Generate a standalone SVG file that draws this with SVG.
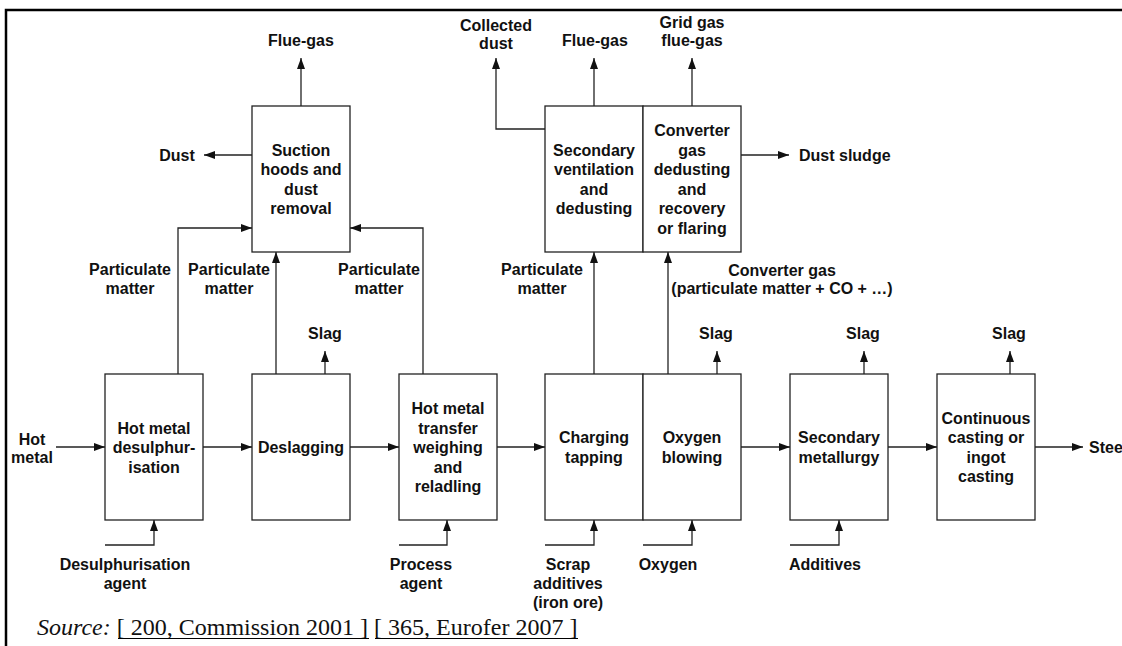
<svg xmlns="http://www.w3.org/2000/svg" width="1122" height="646" viewBox="0 0 1122 646">
<defs>
<marker id="ah" markerUnits="userSpaceOnUse" markerWidth="12" markerHeight="9" refX="11" refY="4" orient="auto">
<path d="M0,0 L11,4 L0,8 z" fill="#111"/>
</marker>
<style>
.box{fill:#fff;stroke:#222;stroke-width:1.3}
.c{fill:none;stroke:#222;stroke-width:1.3}
.a{marker-end:url(#ah)}
.u{stroke:#000;stroke-width:1.2}
text{font-family:"Liberation Sans",Arial,sans-serif;font-size:16px;font-weight:bold;fill:#111}
.m{text-anchor:middle}
.src{font-family:"Liberation Serif","Times New Roman",serif;font-weight:normal;font-size:24px}
</style>
</defs>
<rect x="0" y="0" width="1122" height="646" fill="#fff"/>
<rect x="6" y="10" width="1140" height="660" fill="none" stroke="#000" stroke-width="2.5"/>

<g id="connectors">
<line class="c a" x1="56" y1="447" x2="105" y2="447"/>
<line class="c a" x1="203" y1="447" x2="252" y2="447"/>
<line class="c a" x1="350" y1="447" x2="399" y2="447"/>
<line class="c a" x1="497" y1="447" x2="545" y2="447"/>
<line class="c a" x1="741" y1="447" x2="790" y2="447"/>
<line class="c a" x1="888" y1="447" x2="937" y2="447"/>
<line class="c a" x1="1035" y1="447" x2="1083" y2="447"/>
<polyline class="c a" points="178,374 178,228 252,228"/>
<line class="c a" x1="276" y1="374" x2="276" y2="252"/>
<polyline class="c a" points="423,374 423,228 350,228"/>
<line class="c a" x1="594" y1="374" x2="594" y2="252"/>
<line class="c a" x1="668" y1="374" x2="668" y2="252"/>
<line class="c a" x1="301" y1="106" x2="301" y2="58"/>
<line class="c a" x1="252" y1="155" x2="204" y2="155"/>
<polyline class="c a" points="545,129 496,129 496,58"/>
<line class="c a" x1="594" y1="106" x2="594" y2="58"/>
<line class="c a" x1="692" y1="106" x2="692" y2="58"/>
<line class="c a" x1="741" y1="155" x2="789" y2="155"/>
<line class="c a" x1="325" y1="374" x2="325" y2="351"/>
<line class="c a" x1="717" y1="374" x2="717" y2="351"/>
<line class="c a" x1="864" y1="374" x2="864" y2="351"/>
<line class="c a" x1="1010" y1="374" x2="1010" y2="351"/>
<polyline class="c a" points="105,545 154,545 154,520"/>
<polyline class="c a" points="399,545 447,545 447,520"/>
<polyline class="c a" points="545,545 594,545 594,520"/>
<polyline class="c a" points="643,545 692,545 692,520"/>
<polyline class="c a" points="790,545 839,545 839,520"/>
</g>

<g id="suction">
<rect class="box" x="252" y="106" width="98" height="146"/>
<text class="m" x="301" y="156">Suction</text>
<text class="m" x="301" y="175">hoods and</text>
<text class="m" x="301" y="195">dust</text>
<text class="m" x="301" y="214">removal</text>
</g>
<g id="secondary-ventilation">
<rect class="box" x="545" y="106" width="98" height="146"/>
<text class="m" x="594" y="156">Secondary</text>
<text class="m" x="594" y="175">ventilation</text>
<text class="m" x="594" y="195">and</text>
<text class="m" x="594" y="214">dedusting</text>
</g>
<g id="converter-gas">
<rect class="box" x="643" y="106" width="98" height="146"/>
<text class="m" x="692" y="136">Converter</text>
<text class="m" x="692" y="156">gas</text>
<text class="m" x="692" y="175">dedusting</text>
<text class="m" x="692" y="195">and</text>
<text class="m" x="692" y="214">recovery</text>
<text class="m" x="692" y="234">or flaring</text>
</g>
<g id="desulphurisation">
<rect class="box" x="105" y="374" width="98" height="146"/>
<text class="m" x="154" y="434">Hot metal</text>
<text class="m" x="154" y="453">desulphur-</text>
<text class="m" x="154" y="473">isation</text>
</g>
<g id="deslagging">
<rect class="box" x="252" y="374" width="98" height="146"/>
<text class="m" x="301" y="453">Deslagging</text>
</g>
<g id="transfer">
<rect class="box" x="399" y="374" width="98" height="146"/>
<text class="m" x="448" y="414">Hot metal</text>
<text class="m" x="448" y="434">transfer</text>
<text class="m" x="448" y="453">weighing</text>
<text class="m" x="448" y="473">and</text>
<text class="m" x="448" y="492">reladling</text>
</g>
<g id="charging">
<rect class="box" x="545" y="374" width="98" height="146"/>
<text class="m" x="594" y="443">Charging</text>
<text class="m" x="594" y="463">tapping</text>
</g>
<g id="oxygen-blowing">
<rect class="box" x="643" y="374" width="98" height="146"/>
<text class="m" x="692" y="443">Oxygen</text>
<text class="m" x="692" y="463">blowing</text>
</g>
<g id="secondary-metallurgy">
<rect class="box" x="790" y="374" width="98" height="146"/>
<text class="m" x="839" y="443">Secondary</text>
<text class="m" x="839" y="463">metallurgy</text>
</g>
<g id="casting">
<rect class="box" x="937" y="374" width="98" height="146"/>
<text class="m" x="986" y="424">Continuous</text>
<text class="m" x="986" y="443">casting or</text>
<text class="m" x="986" y="463">ingot</text>
<text class="m" x="986" y="482">casting</text>
</g>

<g id="labels">
<text class="m" x="301" y="46">Flue-gas</text>
<text class="m" x="177" y="161">Dust</text>
<text class="m" x="496" y="31">Collected</text>
<text class="m" x="496" y="49">dust</text>
<text class="m" x="595" y="46">Flue-gas</text>
<text class="m" x="692" y="28">Grid gas</text>
<text class="m" x="692" y="46">flue-gas</text>
<text x="799" y="161">Dust sludge</text>
<text class="m" x="130" y="275">Particulate</text>
<text class="m" x="130" y="294">matter</text>
<text class="m" x="229" y="275">Particulate</text>
<text class="m" x="229" y="294">matter</text>
<text class="m" x="379" y="275">Particulate</text>
<text class="m" x="379" y="294">matter</text>
<text class="m" x="542" y="275">Particulate</text>
<text class="m" x="542" y="294">matter</text>
<text class="m" x="782" y="276">Converter gas</text>
<text class="m" x="782" y="294">(particulate matter + CO + …)</text>
<text class="m" x="325" y="339">Slag</text>
<text class="m" x="716" y="339">Slag</text>
<text class="m" x="863" y="339">Slag</text>
<text class="m" x="1009" y="339">Slag</text>
<text class="m" x="32" y="445">Hot</text>
<text class="m" x="32" y="463">metal</text>
<text x="1089" y="453">Steel</text>
<text class="m" x="125" y="570">Desulphurisation</text>
<text class="m" x="125" y="589">agent</text>
<text class="m" x="421" y="570">Process</text>
<text class="m" x="421" y="589">agent</text>
<text class="m" x="568" y="570">Scrap</text>
<text class="m" x="568" y="589">additives</text>
<text class="m" x="568" y="608">(iron ore)</text>
<text class="m" x="668" y="570">Oxygen</text>
<text class="m" x="825" y="570">Additives</text>
</g>
<g id="source">
<text class="src" x="37" y="635"><tspan font-style="italic">Source:</tspan> [ 200, Commission 2001 ] [ 365, Eurofer 2007 ]</text>
<line class="u" x1="118" y1="638.5" x2="369" y2="638.5"/>
<line class="u" x1="375" y1="638.5" x2="578" y2="638.5"/>
</g>
</svg>
